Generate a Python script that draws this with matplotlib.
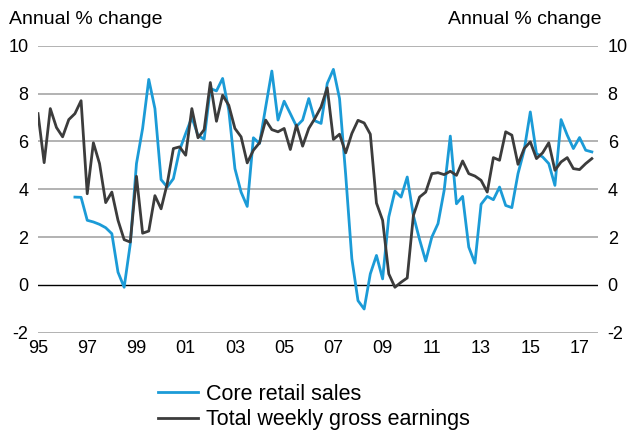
import numpy as np
import matplotlib
matplotlib.use("Agg")
from matplotlib import pyplot as plt

plt.rcParams['font.family'] = ['Liberation Sans', 'DejaVu Sans']
plt.rcParams['axes.unicode_minus'] = False

# quarterly data, first quarter of 1995 onwards
start_year = 1995
earnings = [7.16, 5.11, 7.37, 6.58, 6.19, 6.91, 7.16, 7.70, 3.81, 5.94, 5.07, 3.44,
            3.88, 2.70, 1.89, 1.79, 4.54, 2.16, 2.25, 3.73, 3.18, 4.23, 5.70, 5.77,
            5.42, 7.37, 6.15, 6.49, 8.46, 6.84, 7.93, 7.51, 6.54, 6.19, 5.10, 5.63,
            5.94, 6.89, 6.49, 6.40, 6.54, 5.66, 6.68, 5.80, 6.54, 6.96, 7.44, 8.24,
            6.08, 6.30, 5.52, 6.33, 6.88, 6.77, 6.30, 3.42, 2.70, 0.46, -0.10, 0.11,
            0.29, 2.90, 3.67, 3.88, 4.65, 4.69, 4.61, 4.75, 4.58, 5.18, 4.65, 4.55,
            4.37, 3.88, 5.32, 5.21, 6.40, 6.26, 5.04, 5.70, 5.98, 5.28, 5.52, 5.94,
            4.79, 5.14, 5.32, 4.86, 4.82, 5.07, 5.28]
# core retail sales starts in Q3 1996
retail_start = 6
retail = [3.67, 3.66, 2.70, 2.63, 2.53, 2.39, 2.14, 0.53, -0.10, 1.72, 5.07, 6.54,
          8.59, 7.37, 4.40, 4.09, 4.44, 5.63, 6.33, 7.00, 6.25, 6.09, 8.21, 8.11,
          8.63, 7.30, 4.86, 3.88, 3.28, 6.15, 5.91, 7.44, 8.94, 6.89, 7.68, 7.16,
          6.63, 6.89, 7.79, 6.86, 6.75, 8.42, 9.01, 7.79, 4.60, 1.09, -0.66, -1.01,
          0.46, 1.23, 0.25, 2.84, 3.92, 3.67, 4.51, 2.90, 1.90, 1.00, 2.00, 2.56,
          3.95, 6.22, 3.39, 3.70, 1.58, 0.91, 3.37, 3.70, 3.56, 4.09, 3.32, 3.23,
          4.65, 5.63, 7.23, 5.49, 5.35, 5.07, 4.16, 6.91, 6.26, 5.70, 6.16, 5.63, 5.56]

year_ticks = list(range(1995, 2018, 2))
year_labels = ['95', '97', '99', '01', '03', '05', '07', '09', '11', '13', '15', '17']
y_ticks = [-2, 0, 2, 4, 6, 8, 10]

t_earn = start_year + np.arange(len(earnings)) / 4.0
t_ret = start_year + (retail_start + np.arange(len(retail))) / 4.0

fig = plt.figure(figsize=(6.35, 4.30), dpi=100)
ax = fig.add_axes([38/635, 1-332.7/430, 560/635, (332.7-45.7)/430])

for v in y_ticks:
    if v == 0:
        ax.axhline(v, color='black', lw=1.0, zorder=1)
    else:
        ax.axhline(v, color='#a6a6a6', lw=1.2, zorder=1)

ax.plot(t_ret, retail, color='#1b9bd7', lw=2.0, label='Core retail sales', zorder=3)
ax.plot(t_earn, earnings, color='#3c3c3c', lw=2.0, label='Total weekly gross earnings', zorder=3)

ax.set_xlim(1995, 2017.75)
ax.set_ylim(-2, 10)
ax.set_xticks(year_ticks)
ax.set_xticklabels(year_labels)
ax.set_yticks(y_ticks)
ax.tick_params(axis='both', length=0, labelsize=13)
ax.tick_params(axis='x', pad=5)
ax.tick_params(axis='y', pad=7, labelright=True)
for s in ax.spines.values():
    s.set_visible(False)

fig.text(9/635, 1-20/430, 'Annual % change', fontsize=14, ha='left', va='center')
fig.text(601/635, 1-20/430, 'Annual % change', fontsize=14, ha='right', va='center')

fig.legend(loc='upper left', bbox_to_anchor=(158/635, 1-383.5/430), frameon=False,
           fontsize=15.5, handlelength=1.86, handletextpad=0.37, labelspacing=0.22,
           borderpad=0, borderaxespad=0)

fig.savefig('out.png', dpi=100)
